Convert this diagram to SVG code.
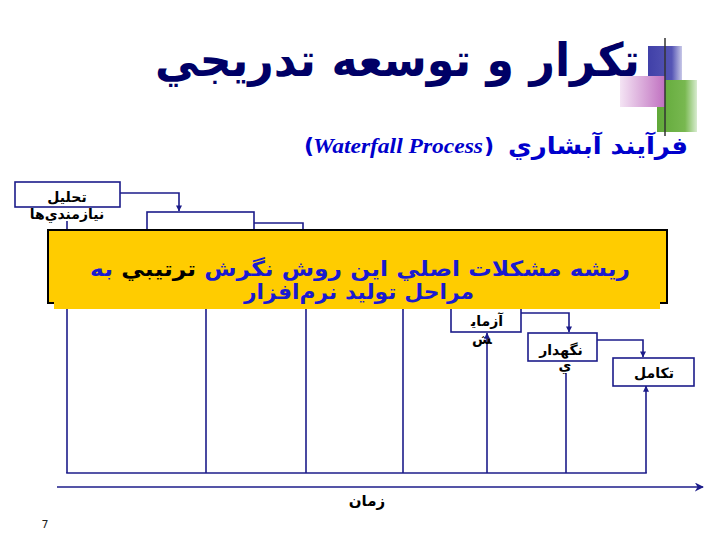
<svg xmlns="http://www.w3.org/2000/svg" width="720" height="540" viewBox="0 0 720 540">
<style>
.fa{font-family:"DejaVu Sans","Noto Sans",sans-serif;font-weight:bold}
.box{fill:#fff;stroke:#1c1c8a;stroke-width:1.6}
.ln{fill:none;stroke:#1c1c8a;stroke-width:1.6}
.bt{font-size:14px;fill:#000;text-anchor:middle}
</style>
<defs>
<marker id="ah" viewBox="0 0 8 8" refX="7.5" refY="4" markerWidth="6" markerHeight="6" markerUnits="userSpaceOnUse" orient="auto">
<path d="M0,0 L8,4 L0,8 z" fill="#1c1c8a"/>
</marker>
<marker id="ax" viewBox="0 0 10 10" refX="9" refY="5" markerWidth="9" markerHeight="9" markerUnits="userSpaceOnUse" orient="auto">
<path d="M0,0 L10,5 L0,10 L3,5 z" fill="#1c1c8a"/>
</marker>
<linearGradient id="hl" x1="0" y1="0" x2="1" y2="0">
<stop offset="0" stop-color="#ffffff"/>
<stop offset="1" stop-color="#333333"/>
</linearGradient>
<linearGradient id="bl" x1="0" y1="0" x2="1" y2="0">
<stop offset="0" stop-color="#4040a8"/>
<stop offset="0.7" stop-color="#5555b5"/>
<stop offset="1" stop-color="#c8c8e8"/>
</linearGradient>
<linearGradient id="pk" x1="0" y1="0" x2="1" y2="0">
<stop offset="0" stop-color="#f4e4f4"/>
<stop offset="1" stop-color="#c070c0"/>
</linearGradient>
<linearGradient id="gr" x1="0" y1="0" x2="1" y2="0">
<stop offset="0" stop-color="#60a838"/>
<stop offset="0.7" stop-color="#78b850"/>
<stop offset="1" stop-color="#d8ecd0"/>
</linearGradient>
</defs>

<g id="header">
<rect x="648" y="46" width="34" height="36" fill="url(#bl)"/>
<rect x="657" y="80" width="40" height="52" fill="url(#gr)"/>
<rect x="620" y="76" width="45" height="31" fill="url(#pk)"/>
<line x1="130" y1="105" x2="682" y2="105" stroke="url(#hl)" stroke-width="2.5"/>
<line x1="665" y1="38" x2="665" y2="136" stroke="#333" stroke-width="1.5"/>
<text class="fa" x="640" y="76" font-size="46" fill="#000066" text-anchor="start" direction="rtl" textLength="485" lengthAdjust="spacingAndGlyphs">تكرار و توسعه تدريجي</text>
<text class="fa" x="688" y="154" font-size="24" fill="#0000cc" text-anchor="start" direction="rtl" textLength="180" lengthAdjust="spacingAndGlyphs">فرآيند آبشاري</text>
<text class="fa" x="304" y="153" font-size="22" fill="#0000cc">(</text>
<text x="313" y="153" font-family="'Liberation Serif',serif" font-weight="bold" font-style="italic" font-size="21" fill="#0000cc" textLength="170" lengthAdjust="spacingAndGlyphs">Waterfall Process</text>
<text class="fa" x="484" y="153" font-size="22" fill="#0000cc">)</text>
</g>

<g id="connectors">
<polyline class="ln" points="120,193 179,193 179,211" marker-end="url(#ah)"/>
<polyline class="ln" points="254,223 303,223 303,240"/>
<polyline class="ln" points="521,313 569,313 569,332" marker-end="url(#ah)"/>
<polyline class="ln" points="597,340 643,340 643,357" marker-end="url(#ah)"/>
<line class="ln" x1="67" y1="473" x2="67" y2="221"/>
<line class="ln" x1="206" y1="473" x2="206" y2="300"/>
<line class="ln" x1="306" y1="473" x2="306" y2="300"/>
<line class="ln" x1="403" y1="473" x2="403" y2="300"/>
<line class="ln" x1="487" y1="473" x2="487" y2="333" marker-end="url(#ah)"/>
<line class="ln" x1="566" y1="473" x2="566" y2="373"/>
<line class="ln" x1="646" y1="473" x2="646" y2="386" marker-end="url(#ah)"/>
<line class="ln" x1="66.2" y1="473" x2="646.8" y2="473"/>
<line class="ln" x1="57" y1="487" x2="703" y2="487" stroke-width="2" marker-end="url(#ax)"/>
</g>

<g id="n-analysis">
<rect class="box" x="15" y="182" width="105" height="25"/>
<text class="fa bt" x="67" y="202">تحليل</text>
<text class="fa bt" x="67" y="219">نيازمندي‌ها</text>
</g>
<g id="n-spec">
<rect class="box" x="147" y="212" width="107" height="30"/>
<text class="fa bt" x="200" y="236">تعيين</text>
</g>
<g id="n-test">
<rect class="box" x="451" y="298" width="70" height="34"/>
<text class="fa bt" x="487" y="326">آزماي&#x200D;</text>
<text class="fa bt" x="482" y="344">&#x200D;ش</text>
</g>
<g id="n-maint">
<rect class="box" x="528" y="333" width="69" height="28"/>
<text class="fa bt" x="561" y="355">نگهدار</text>
<text class="fa bt" x="565" y="370">ي</text>
</g>
<g id="n-evol">
<rect class="box" x="613" y="358" width="81" height="28"/>
<text class="fa bt" x="654" y="378">تكامل</text>
</g>

<g id="callout">
<rect x="48" y="230" width="619" height="73" fill="#ffcc00" stroke="#000" stroke-width="2"/>
<rect x="54" y="235" width="606" height="74" fill="#ffcc00"/>
<text class="fa" x="630" y="276" font-size="21" fill="#1a1ad0" text-anchor="start" direction="rtl" textLength="540" lengthAdjust="spacingAndGlyphs">ريشه مشكلات اصلي اين روش نگرش <tspan fill="#000">ترتيبي</tspan> به</text>
<text class="fa" x="474" y="299" font-size="21" fill="#1a1ad0" text-anchor="start" direction="rtl" textLength="230" lengthAdjust="spacingAndGlyphs">مراحل توليد نرم‌افزار</text>
</g>

<g id="labels">
<text class="fa" x="367" y="506" font-size="15" fill="#000" text-anchor="middle" direction="rtl">زمان</text>
<text x="45" y="528" font-family="'DejaVu Sans',sans-serif" font-size="11" fill="#222" text-anchor="middle">7</text>
</g>
</svg>
